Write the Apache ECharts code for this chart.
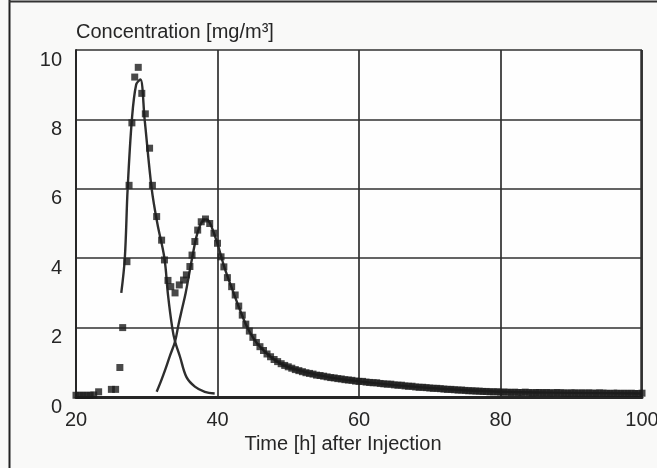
<!DOCTYPE html>
<html>
<head>
<meta charset="utf-8">
<script src="https://cdn.jsdelivr.net/npm/echarts@6/dist/echarts.min.js"></script>
<style>
html,body{margin:0;padding:0;background:#f9f9f8;}
#chart{width:657px;height:468px;}
</style>
</head>
<body>
<div id="chart"></div>
<script>
// Measured concentration (time [h], concentration [mg/m³])
var measuredTime = [
  20.0,20.5,21.0,21.5,22.0,22.5,23.2,25.0,25.6,26.2,26.6,27.2,27.5,27.9,28.3,28.8,29.3,29.8,30.4,30.8,
  31.4,32.1,32.5,33.0,33.4,34.0,34.6,35.2,35.6,36.1,36.4,36.8,37.2,37.7,38.3,38.9,39.5,40.0,40.5,40.9,
  41.4,42.0,42.5,43.0,43.5,44.0,44.5,45.0,45.5,46.0,46.5,47.0,47.5,48.0,48.5,49.0,49.5,50.0,50.5,51.0,
  51.5,52.0,52.5,53.0,53.5,54.0,54.5,55.0,55.5,56.0,56.5,57.0,57.5,58.0,58.5,59.0,59.5,60.0,60.5,61.0,
  61.5,62.0,62.5,63.0,63.5,64.0,64.5,65.0,65.5,66.0,66.5,67.0,67.5,68.0,68.5,69.0,69.5,70.0,70.5,71.0,
  71.5,72.0,72.5,73.0,73.5,74.0,74.5,75.0,75.5,76.0,76.5,77.0,77.5,78.0,78.5,79.0,79.5,80.0,80.5,81.0,
  81.5,82.0,82.5,83.0,83.5,84.0,84.5,85.0,85.5,86.0,86.5,87.0,87.5,88.0,88.5,89.0,89.5,90.0,90.5,91.0,
  91.5,92.0,92.5,93.0,93.5,94.0,94.5,95.0,95.5,96.0,96.5,97.0,97.5,98.0,98.5,99.0,99.5,100.0
];
var measuredConc = [
  0.05,0.05,0.05,0.05,0.05,0.06,0.15,0.22,0.22,0.85,2.0,3.9,6.1,7.9,9.22,9.5,8.75,8.16,7.17,6.1,
  5.2,4.52,3.95,3.36,3.18,3.0,3.23,3.37,3.52,3.76,4.09,4.48,4.81,5.05,5.13,5.0,4.72,4.43,4.04,3.75,
  3.44,3.18,2.94,2.62,2.36,2.1,1.9,1.72,1.57,1.45,1.34,1.24,1.16,1.08,1.02,0.96,0.91,0.87,0.83,0.79,
  0.76,0.73,0.70,0.68,0.66,0.63,0.62,0.60,0.58,0.56,0.55,0.53,0.52,0.50,0.49,0.48,0.46,0.45,0.45,0.43,
  0.42,0.41,0.41,0.39,0.38,0.37,0.37,0.35,0.34,0.34,0.32,0.31,0.31,0.29,0.28,0.28,0.27,0.26,0.25,0.25,
  0.24,0.23,0.22,0.22,0.21,0.20,0.20,0.19,0.18,0.18,0.17,0.17,0.16,0.16,0.15,0.15,0.15,0.14,0.14,0.14,
  0.13,0.14,0.13,0.13,0.14,0.13,0.12,0.13,0.13,0.12,0.13,0.12,0.12,0.13,0.12,0.12,0.11,0.12,0.12,0.11,
  0.12,0.11,0.12,0.11,0.11,0.12,0.11,0.11,0.10,0.11,0.11,0.10,0.11,0.10,0.11,0.10,0.10,0.11
];
// Fitted curve for the first peak
var fit1Time = [26.4,26.9,27.3,27.9,28.5,29.1,29.7,30.7,31.5,32.5,33.0,33.6,34.0,34.7,35.6,36.8,38.2,39.6];
var fit1Conc = [3.0,4.0,6.0,8.0,9.0,9.15,8.0,6.0,5.0,4.0,2.95,2.0,1.6,1.16,0.58,0.3,0.15,0.1];
// Fitted curve for the second peak
var fit2Time = [31.4,32.0,32.6,33.3,34.0,34.5,35.0,35.5,36.0,36.5,37.0,37.5,38.0,38.5,39.0,39.5,40.0,41.0,42.0,43.0,44.0,45.0,46.0,48.0,50.0,55.0,60.0,70.0,80.0,90.0,100.0];
var fit2Conc = [0.15,0.45,0.78,1.2,1.6,2.1,2.55,3.0,3.55,4.1,4.6,4.93,5.1,5.12,4.98,4.72,4.42,3.72,3.15,2.6,2.1,1.72,1.45,1.08,0.86,0.6,0.45,0.26,0.15,0.12,0.1];
// Axis ticks
var xTicks = [20,40,60,80,100];
var yTicks = [0,2,4,6,8,10];

function pairs(xs, ys){ return xs.map(function(x,i){ return [x, ys[i]]; }); }

var ink = '#262626';
var font = 'Liberation Sans, Arial, Helvetica, sans-serif';
var chart = echarts.init(document.getElementById('chart'), null, {renderer:'canvas'});
chart.setOption({
  backgroundColor: '#f9f9f8',
  animation: false,
  grid: {left:76, right:15, top:50, bottom:71, show:true, backgroundColor:'#fefefe', borderWidth:0, outerBoundsMode:'none', containLabel:false},
  xAxis: {
    type:'value', min:xTicks[0], max:xTicks[xTicks.length-1], interval:20,
    name:'Time [h] after Injection', nameLocation:'middle', nameGap:35,
    nameTextStyle:{color:ink, fontSize:20, fontFamily:font, padding:[0,32,0,0]},
    axisLine:{show:true, onZero:false, lineStyle:{color:ink, width:3}},
    axisTick:{show:false},
    axisLabel:{color:ink, fontSize:20, fontFamily:font, margin:13, showMaxLabel:true, showMinLabel:true},
    splitLine:{show:true, lineStyle:{color:'#303030', width:1.7}}
  },
  yAxis: {
    type:'value', min:yTicks[0], max:yTicks[yTicks.length-1], interval:2,
    name:'Concentration [mg/m³]', nameLocation:'end', nameGap:18,
    nameTextStyle:{color:ink, fontSize:20, fontFamily:font, align:'left', verticalAlign:'middle'},
    axisLine:{show:true, lineStyle:{color:ink, width:2}},
    axisTick:{show:false},
    axisLabel:{color:ink, fontSize:20, fontFamily:font, margin:14, verticalAlign:'top'},
    splitLine:{show:true, lineStyle:{color:'#303030', width:1.7}}
  },
  graphic: [
    {type:'line', shape:{x1:9.5, y1:0, x2:9.5, y2:468}, style:{stroke:'#222', lineWidth:2}, silent:true},
    {type:'line', shape:{x1:9, y1:1.5, x2:657, y2:1.5}, style:{stroke:'#333', lineWidth:2}, silent:true},
    {type:'line', shape:{x1:641.5, y1:50, x2:641.5, y2:397}, style:{stroke:'#333', lineWidth:2.5}, silent:true}
  ],
  series: [
    {type:'line', data:pairs(fit1Time, fit1Conc), smooth:0.35, showSymbol:false, lineStyle:{color:'#2e2e2e', width:2.4}, z:2},
    {type:'line', data:pairs(fit2Time, fit2Conc), smooth:0.35, showSymbol:false, lineStyle:{color:'#2e2e2e', width:2.4}, z:2},
    {type:'scatter', data:pairs(measuredTime, measuredConc), symbol:'rect', symbolSize:7, itemStyle:{color:'#1c1c1c'}, z:3}
  ]
});
</script>
</body>
</html>
